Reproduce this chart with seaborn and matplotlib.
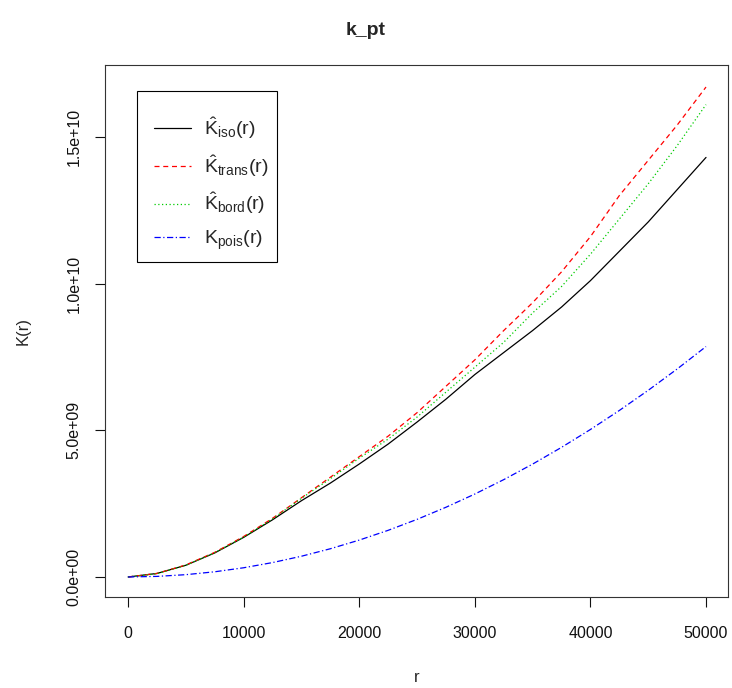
import numpy as np
import pandas as pd
import matplotlib
matplotlib.use("Agg")
import matplotlib.pyplot as plt
import seaborn as sns
from matplotlib.ticker import FuncFormatter
from matplotlib.patches import Rectangle

# ---- data ----
r_vals = [0, 2500, 5000, 7500, 10000, 12500, 15000, 17500, 20000, 22500, 25000,
          27500, 30000, 32500, 35000, 37500, 40000, 42500, 45000, 47500, 50000]
k_iso = [0, 0.12e9, 0.40e9, 0.82e9, 1.35e9, 1.95e9, 2.60e9, 3.20e9, 3.85e9, 4.53e9,
         5.28e9, 6.06e9, 6.90e9, 7.65e9, 8.40e9, 9.20e9, 10.1e9, 11.1e9, 12.1e9,
         13.2e9, 14.3e9]
k_trans = [0, 0.12e9, 0.41e9, 0.84e9, 1.38e9, 2.00e9, 2.70e9, 3.40e9, 4.10e9, 4.80e9,
           5.60e9, 6.50e9, 7.40e9, 8.40e9, 9.35e9, 10.4e9, 11.6e9, 13.0e9, 14.2e9,
           15.4e9, 16.7e9]
k_bord = [0, 0.11e9, 0.40e9, 0.83e9, 1.36e9, 1.98e9, 2.68e9, 3.35e9, 4.05e9, 4.70e9,
          5.45e9, 6.30e9, 7.15e9, 8.00e9, 9.00e9, 9.90e9, 11.0e9, 12.2e9, 13.4e9,
          14.7e9, 16.1e9]
k_pois = [0, 0.0196e9, 0.0785e9, 0.177e9, 0.314e9, 0.491e9, 0.707e9, 0.962e9, 1.257e9,
          1.590e9, 1.963e9, 2.376e9, 2.827e9, 3.318e9, 3.848e9, 4.418e9, 5.027e9,
          5.675e9, 6.362e9, 7.088e9, 7.854e9]

series_names = ["iso", "trans", "bord", "pois"]
labels = [r"$\hat{K}_{iso}(r)$", r"$\hat{K}_{trans}(r)$",
          r"$\hat{K}_{bord}(r)$", r"$K_{pois}(r)$"]
title = "k_pt"
xlabel = "r"
ylabel = "K(r)"
xticks = [0, 10000, 20000, 30000, 40000, 50000]
yticks = [0, 5e9, 1e10, 1.5e10]

df = pd.DataFrame({"r": r_vals, "iso": k_iso, "trans": k_trans,
                   "bord": k_bord, "pois": k_pois})

# ---- styling ----
sns.set_style("ticks")
plt.rcParams["font.family"] = ["Liberation Sans", "DejaVu Sans"]
plt.rcParams["mathtext.fontset"] = "custom"
plt.rcParams["mathtext.rm"] = "Liberation Sans"
plt.rcParams["mathtext.it"] = "Liberation Sans"

fig = plt.figure(figsize=(7.32, 6.88), dpi=100)
ax = fig.add_axes([0.1434, 0.1323, 0.8511, 0.7732])

colors = ["black", "red", "#00cc00", "blue"]
styles = ["-", (0, (4, 3)), (0, (1, 2)), (0, (5, 2, 1, 2))]
for name, lab, c, ls in zip(series_names, labels, colors, styles):
    sns.lineplot(data=df, x="r", y=name, ax=ax, color=c, linestyle=ls,
                 linewidth=0.9, label=lab)

ax.set_xlim(-2000, 51900)
ax.set_ylim(-6.82e8, 1.745e10)
ax.set_xticks(xticks)
ax.set_yticks(yticks)
ax.xaxis.set_major_formatter(FuncFormatter(lambda v, p: f"{int(v)}"))
ax.yaxis.set_major_formatter(FuncFormatter(lambda v, p: f"{v:.1e}"))
ax.tick_params(axis="both", direction="out", length=7, width=0.8, labelsize=11.5,
               colors="#111111")
ax.tick_params(axis="x", pad=14)
ax.tick_params(axis="y", pad=10)
for lab in ax.get_yticklabels():
    lab.set_rotation(90)
    lab.set_va("center")
for s in ax.spines.values():
    s.set_color("#333333")
    s.set_linewidth(0.8)

ax.set_xlabel(xlabel, fontsize=12, labelpad=21)
ax.set_ylabel(ylabel, fontsize=12, labelpad=26)
fig.suptitle(title, fontsize=14, fontweight="bold", y=0.968)

leg = ax.legend(loc="upper left", bbox_to_anchor=(0.051, 0.9397), borderaxespad=0,
                frameon=False, fontsize=14,
                handlelength=1.9, handletextpad=0.65, labelspacing=0.62,
                borderpad=0.9)
# legend frame box
ax.add_patch(Rectangle((0.0514, 0.6297), 0.2247, 0.3213, transform=ax.transAxes,
                       fill=False, edgecolor="black", linewidth=0.8, zorder=5))

fig.savefig("out.png", dpi=100)
